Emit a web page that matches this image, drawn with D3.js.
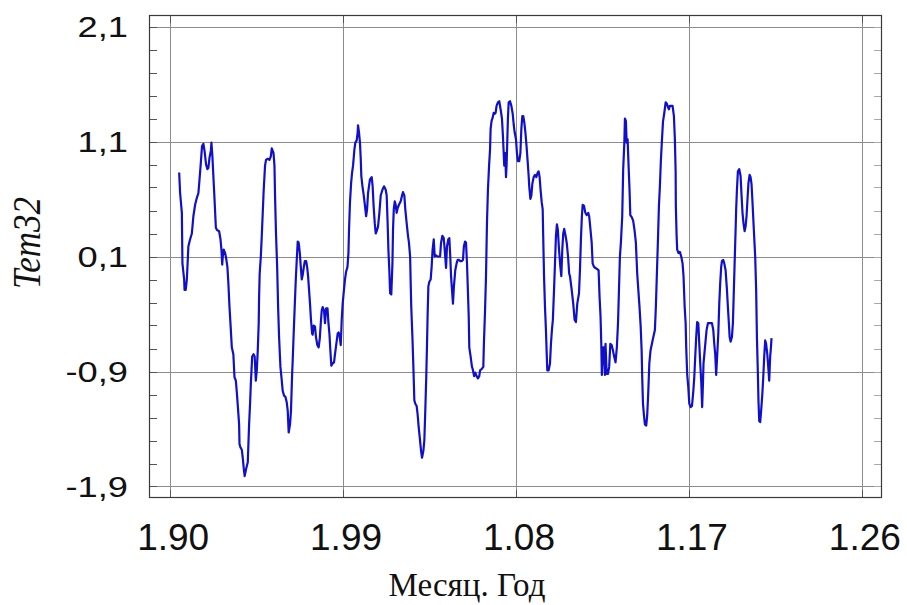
<!DOCTYPE html>
<html>
<head>
<meta charset="utf-8">
<script src="https://cdn.jsdelivr.net/npm/d3@7/dist/d3.min.js"></script>
<style>
  body { margin: 0; background: #fff; }
</style>
</head>
<body>
<svg id="chart" width="907" height="605"></svg>
<script>
// Tem32 monthly series (decimal year, value)
const years = [
  1990.47, 1990.52, 1990.61, 1990.64, 1990.73, 1990.75, 1990.81, 1990.87, 1990.95, 1991.04,
  1991.13, 1991.21, 1991.30, 1991.39, 1991.47, 1991.53, 1991.60, 1991.66, 1991.73, 1991.79,
  1991.87, 1991.94, 1991.99, 1992.05, 1992.12, 1992.15, 1992.20, 1992.25, 1992.31, 1992.38,
  1992.44, 1992.55, 1992.62, 1992.67, 1992.71, 1992.74, 1992.79, 1992.86, 1992.91, 1992.98,
  1993.03, 1993.09, 1993.16, 1993.21, 1993.29, 1993.35, 1993.42, 1993.47, 1993.54, 1993.59,
  1993.61, 1993.66, 1993.73, 1993.78, 1993.83, 1993.88, 1993.95, 1994.04, 1994.11, 1994.16,
  1994.20, 1994.27, 1994.34, 1994.40, 1994.46, 1994.51, 1994.56, 1994.61, 1994.63, 1994.66,
  1994.72, 1994.77, 1994.82, 1994.87, 1994.94, 1994.99, 1995.08, 1995.17, 1995.24, 1995.29,
  1995.38, 1995.43, 1995.46, 1995.51, 1995.57, 1995.62, 1995.67, 1995.74, 1995.81, 1995.86,
  1995.93, 1996.00, 1996.07, 1996.12, 1996.17, 1996.24, 1996.29, 1996.35, 1996.38, 1996.43,
  1996.49, 1996.54, 1996.59, 1996.64, 1996.69, 1996.75, 1996.80, 1996.85, 1996.90, 1996.95,
  1997.01, 1997.08, 1997.13, 1997.18, 1997.23, 1997.28, 1997.33, 1997.39, 1997.42, 1997.47,
  1997.54, 1997.59, 1997.66, 1997.73, 1997.79, 1997.84, 1997.89, 1997.94, 1998.01, 1998.06,
  1998.12, 1998.19, 1998.24, 1998.29, 1998.34, 1998.39, 1998.46, 1998.53, 1998.58, 1998.65,
  1998.72, 1998.77, 1998.83, 1998.88, 1998.93, 1998.98, 1999.03, 1999.10, 1999.16, 1999.23,
  1999.28, 1999.31, 1999.36, 1999.42, 1999.47, 1999.52, 1999.59, 1999.64, 1999.71, 1999.76,
  1999.78, 1999.83, 1999.88, 1999.92, 1999.95, 2000.01, 2000.07, 2000.14, 2000.20, 2000.25,
  2000.30, 2000.40, 2000.49, 2000.54, 2000.59, 2000.65, 2000.70, 2000.75, 2000.82, 2000.89,
  2000.96, 2001.05, 2001.13, 2001.22, 2001.27, 2001.32, 2001.36, 2001.41, 2001.45, 2001.51,
  2001.57, 2001.60, 2001.64, 2001.69, 2001.74, 2001.79, 2001.84, 2001.91, 2002.00, 2002.07,
  2002.12, 2002.19, 2002.24, 2002.31, 2002.38, 2002.43, 2002.49, 2002.52, 2002.55, 2002.61,
  2002.66, 2002.71, 2002.76, 2002.83, 2002.88, 2002.94, 2002.99, 2003.06, 2003.11, 2003.18,
  2003.23, 2003.28, 2003.33, 2003.37, 2003.40, 2003.44, 2003.49, 2003.56, 2003.61, 2003.66,
  2003.72, 2003.77, 2003.84, 2003.91, 2003.98, 2004.05, 2004.10, 2004.17, 2004.24, 2004.29,
  2004.36, 2004.41, 2004.48, 2004.53, 2004.58, 2004.62, 2004.67, 2004.72, 2004.77, 2004.84,
  2004.91, 2004.96, 2005.03, 2005.10, 2005.17, 2005.24, 2005.29, 2005.35, 2005.40, 2005.45,
  2005.49, 2005.54, 2005.57, 2005.64, 2005.71, 2005.75, 2005.82, 2005.88, 2005.95, 2006.02,
  2006.09, 2006.13, 2006.21, 2006.30, 2006.33, 2006.39, 2006.44, 2006.49, 2006.54, 2006.60,
  2006.65, 2006.68, 2006.73, 2006.79, 2006.84, 2006.89, 2006.94, 2006.99, 2007.06, 2007.13,
  2007.20, 2007.27, 2007.32, 2007.36, 2007.39, 2007.44, 2007.48, 2007.51, 2007.55, 2007.58,
  2007.62, 2007.69, 2007.76, 2007.83, 2007.88, 2007.93, 2008.00, 2008.05, 2008.10, 2008.17,
  2008.23, 2008.28, 2008.33, 2008.38, 2008.43, 2008.49, 2008.55, 2008.61, 2008.66, 2008.69,
  2008.75, 2008.80, 2008.85, 2008.92, 2008.99, 2009.06, 2009.13, 2009.18, 2009.23, 2009.28,
  2009.34, 2009.39, 2009.42, 2009.46, 2009.51, 2009.56, 2009.60, 2009.63, 2009.70, 2009.77,
  2009.82, 2009.87, 2009.92, 2009.98, 2010.03, 2010.08, 2010.13, 2010.18, 2010.24, 2010.31,
  2010.36, 2010.41, 2010.46, 2010.51, 2010.58, 2010.64, 2010.71, 2010.77, 2010.81, 2010.90,
  2010.98, 2011.05, 2011.12, 2011.19, 2011.28, 2011.33, 2011.38, 2011.43, 2011.47, 2011.54,
  2011.61, 2011.68, 2011.76, 2011.81, 2011.88, 2011.94, 2011.99, 2012.06, 2012.14, 2012.23,
  2012.30, 2012.35, 2012.40, 2012.44, 2012.47, 2012.53, 2012.58, 2012.63, 2012.66, 2012.72,
  2012.79, 2012.85, 2012.91, 2012.98, 2013.05, 2013.11, 2013.18, 2013.25, 2013.31, 2013.36,
  2013.41, 2013.46, 2013.53, 2013.58, 2013.64, 2013.67, 2013.72, 2013.76, 2013.81, 2013.86,
  2013.91, 2013.95, 2014.03, 2014.10, 2014.17, 2014.24, 2014.31, 2014.38, 2014.43, 2014.49,
  2014.54, 2014.57, 2014.61, 2014.66, 2014.71, 2014.78, 2014.83, 2014.88, 2014.94, 2015.00,
  2015.11, 2015.23, 2015.28, 2015.33, 2015.39, 2015.44, 2015.49, 2015.54, 2015.59, 2015.65,
  2015.72, 2015.79, 2015.85, 2015.91, 2015.96, 2016.01, 2016.08, 2016.15, 2016.22, 2016.27,
  2016.31, 2016.32, 2016.36, 2016.39, 2016.46, 2016.53, 2016.60, 2016.67, 2016.72, 2016.78,
  2016.83, 2016.86, 2016.91, 2016.97, 2017.02, 2017.09, 2017.16, 2017.23, 2017.28, 2017.33,
  2017.38, 2017.43, 2017.49, 2017.54, 2017.59, 2017.64, 2017.69, 2017.73, 2017.76, 2017.82,
  2017.87, 2017.92, 2017.99, 2018.06, 2018.13, 2018.20, 2018.27, 2018.32, 2018.37, 2018.42,
  2018.46, 2018.53, 2018.58, 2018.63, 2018.68, 2018.72, 2018.79, 2018.84, 2018.91, 2018.98,
  2019.03, 2019.08, 2019.12, 2019.17, 2019.24, 2019.29, 2019.34, 2019.39, 2019.43, 2019.46,
  2019.50, 2019.55, 2019.62, 2019.69, 2019.74, 2019.79, 2019.84, 2019.90, 2019.95, 2020.00,
  2020.05, 2020.10, 2020.16, 2020.21, 2020.26, 2020.31, 2020.38, 2020.45, 2020.50, 2020.54,
  2020.59, 2020.62, 2020.66, 2020.71, 2020.76, 2020.82, 2020.87, 2020.92, 2020.97, 2021.02,
  2021.08, 2021.13, 2021.18, 2021.23, 2021.27, 2021.30
];
const values = [
  0.83, 0.65, 0.48, 0.04, -0.10, -0.19, -0.19, -0.10, 0.19, 0.25,
  0.30, 0.45, 0.55, 0.61, 0.65, 0.77, 0.92, 1.06, 1.08, 1.02,
  0.90, 0.86, 0.87, 0.96, 1.02, 1.09, 0.97, 0.80, 0.60, 0.35,
  0.33, 0.32, 0.25, 0.16, 0.03, 0.10, 0.16, 0.13, 0.09, 0.01,
  -0.13, -0.34, -0.54, -0.69, -0.75, -0.95, -0.98, -1.08, -1.24, -1.36,
  -1.53, -1.56, -1.58, -1.65, -1.74, -1.81, -1.75, -1.69, -1.36, -1.18,
  -1.01, -0.77, -0.75, -0.77, -0.98, -0.89, -0.72, -0.48, -0.25, -0.05,
  0.10, 0.28, 0.48, 0.68, 0.89, 0.94, 0.95, 0.94, 0.97, 1.04,
  1.00, 0.89, 0.63, 0.30, 0.01, -0.34, -0.60, -0.86, -0.98, -1.07,
  -1.11, -1.12, -1.17, -1.24, -1.43, -1.36, -1.24, -0.92, -0.80, -0.57,
  -0.31, -0.10, 0.07, 0.23, 0.22, 0.13, 0.01, -0.10, -0.06, 0.00,
  0.06, 0.06, 0.01, -0.07, -0.19, -0.31, -0.45, -0.57, -0.58, -0.50,
  -0.51, -0.60, -0.67, -0.69, -0.61, -0.48, -0.37, -0.34, -0.37, -0.48,
  -0.35, -0.35, -0.48, -0.57, -0.72, -0.85, -0.83, -0.82, -0.75, -0.66,
  -0.57, -0.56, -0.60, -0.67, -0.45, -0.31, -0.22, -0.10, -0.03, 0.01,
  0.13, 0.33, 0.57, 0.74, 0.83, 0.89, 1.03, 1.09, 1.11, 1.18,
  1.24, 1.18, 1.09, 0.95, 0.80, 0.71, 0.64, 0.54, 0.45, 0.51,
  0.65, 0.77, 0.79, 0.71, 0.54, 0.39, 0.30, 0.32, 0.36, 0.48,
  0.63, 0.68, 0.71, 0.68, 0.63, 0.39, 0.16, -0.03, -0.22, -0.23,
  0.04, 0.33, 0.51, 0.58, 0.55, 0.48, 0.52, 0.55, 0.58, 0.63,
  0.66, 0.63, 0.51, 0.39, 0.28, 0.22, 0.10, -0.13, -0.34, -0.60,
  -0.86, -1.15, -1.18, -1.20, -1.27, -1.39, -1.47, -1.59, -1.65, -1.59,
  -1.50, -1.24, -0.95, -0.66, -0.42, -0.16, -0.12, -0.10, 0.01, 0.16,
  0.25, 0.10, 0.11, 0.10, 0.10, 0.10, 0.22, 0.28, 0.26, 0.16,
  0.00, 0.19, 0.25, 0.26, 0.10, -0.07, -0.19, -0.31, -0.16, -0.02,
  0.04, 0.07, 0.07, 0.06, 0.06, 0.07, 0.19, 0.23, 0.22, 0.04,
  -0.16, -0.42, -0.69, -0.77, -0.86, -0.88, -0.94, -0.91, -0.94, -0.96,
  -0.94, -0.89, -0.88, -0.86, -0.66, -0.37, -0.07, 0.39, 0.68, 0.89,
  1.03, 1.21, 1.28, 1.31, 1.35, 1.34, 1.35, 1.41, 1.44, 1.45,
  1.38, 1.30, 1.15, 1.00, 0.89, 1.00, 0.79, 0.89, 1.12, 1.30,
  1.44, 1.45, 1.41, 1.34, 1.25, 1.18, 1.12, 1.00, 0.93, 0.93,
  1.00, 1.21, 1.32, 1.32, 1.27, 1.18, 1.06, 0.92, 0.80, 0.71,
  0.60, 0.63, 0.73, 0.79, 0.81, 0.79, 0.83, 0.84, 0.79, 0.68,
  0.57, 0.51, 0.25, -0.07, -0.34, -0.54, -0.75, -0.89, -0.89, -0.83,
  -0.66, -0.54, -0.45, -0.19, 0.04, 0.28, 0.38, 0.33, 0.16, 0.01,
  -0.07, 0.16, 0.30, 0.34, 0.28, 0.22, 0.10, -0.05, -0.07, -0.19,
  -0.31, -0.45, -0.47, -0.31, -0.22, -0.02, 0.25, 0.45, 0.55, 0.54,
  0.48, 0.46, 0.48, 0.45, 0.33, 0.22, 0.04, 0.01, 0.00, -0.01,
  -0.02, -0.25, -0.42, -0.66, -0.93, -0.69, -0.69, -0.93, -0.66, -0.92,
  -0.92, -0.86, -0.66, -0.67, -0.72, -0.77, -0.82, -0.69, -0.48, -0.19,
  0.10, 0.22, 0.45, 0.86, 1.09, 1.30, 1.28, 1.09, 1.12, 0.89,
  0.68, 0.46, 0.44, 0.41, 0.33, 0.22, -0.05, -0.22, -0.34, -0.51,
  -0.72, -0.95, -1.18, -1.28, -1.36, -1.37, -1.28, -1.10, -0.83, -0.72,
  -0.63, -0.54, -0.34, -0.07, 0.25, 0.54, 0.71, 0.93, 1.09, 1.27,
  1.35, 1.44, 1.43, 1.40, 1.38, 1.41, 1.41, 1.41, 1.32, 1.12,
  0.83, 0.54, 0.28, 0.16, 0.13, 0.14, 0.10, 0.04, -0.07, -0.34,
  -0.48, -0.69, -0.92, -1.04, -1.18, -1.21, -1.20, -1.07, -0.95, -0.77,
  -0.60, -0.47, -0.48, -0.66, -0.83, -0.98, -1.21, -1.01, -0.83, -0.72,
  -0.63, -0.54, -0.48, -0.48, -0.48, -0.48, -0.54, -0.66, -0.75, -0.93,
  -0.80, -0.57, -0.31, -0.13, 0.01, 0.06, 0.07, 0.04, -0.02, -0.19,
  -0.34, -0.48, -0.60, -0.64, -0.60, -0.48, -0.19, 0.10, 0.33, 0.51,
  0.68, 0.84, 0.86, 0.80, 0.63, 0.48, 0.39, 0.32, 0.36, 0.45,
  0.60, 0.74, 0.81, 0.79, 0.73, 0.57, 0.33, 0.10, -0.19, -0.60,
  -0.92, -1.15, -1.33, -1.34, -1.24, -1.10, -0.95, -0.77, -0.63, -0.66,
  -0.75, -0.86, -0.98, -0.77, -0.69, -0.61
];

// axis ticks
const xTicks = [1990, 1999, 2008, 2017, 2026];
const xTickLabels = ['1.90', '1.99', '1.08', '1.17', '1.26'];
const yTicks = [2.1, 1.1, 0.1, -0.9, -1.9];
const yTickLabels = ['2,1', '1,1', '0,1', '-0,9', '-1,9'];
const yMinorTicks = [-1.7, -1.5, -1.3, -1.1, -0.7, -0.5, -0.3, -0.1, 0.3, 0.5, 0.7, 0.9, 1.3, 1.5, 1.7, 1.9];

const svg = d3.select('#chart');
const plotLeft = 149, plotRight = 882, plotTop = 15, plotBottom = 498;

const x = d3.scaleLinear().domain([1988.9, 2027.05]).range([plotLeft, plotRight]);
const y = d3.scaleLinear().domain([-2.0, 2.2]).range([plotBottom, plotTop]);
const px = v => Math.round(v) + 0.5;

// Grid
const grid = svg.append('g').attr('stroke', '#8c8c8c').attr('stroke-width', 1);
grid.selectAll('line.gx')
  .data(xTicks)
  .join('line')
  .attr('class', 'gx')
  .attr('x1', d => px(x(d)))
  .attr('x2', d => px(x(d)))
  .attr('y1', plotTop)
  .attr('y2', plotBottom);
grid.selectAll('line.gy')
  .data(yTicks)
  .join('line')
  .attr('class', 'gy')
  .attr('x1', plotLeft)
  .attr('x2', plotRight)
  .attr('y1', d => px(y(d)))
  .attr('y2', d => px(y(d)));

// Ticks (inward, on all four sides)
const tickG = svg.append('g').attr('stroke', '#555').attr('stroke-width', 1);
const allY = yTicks.concat(yMinorTicks);
tickG.selectAll('line.tl')
  .data(allY)
  .join('line')
  .attr('class', 'tl')
  .attr('x1', plotLeft).attr('x2', plotLeft + 8)
  .attr('y1', d => px(y(d)))
  .attr('y2', d => px(y(d)));
tickG.selectAll('line.tr')
  .data(allY)
  .join('line')
  .attr('class', 'tr')
  .attr('x1', plotRight - 8).attr('x2', plotRight)
  .attr('y1', d => px(y(d)))
  .attr('y2', d => px(y(d)))
  .attr('stroke', '#aaa');
tickG.selectAll('line.tb')
  .data(xTicks)
  .join('line')
  .attr('class', 'tb')
  .attr('x1', d => px(x(d)))
  .attr('x2', d => px(x(d)))
  .attr('y1', plotBottom).attr('y2', plotBottom - 8);
tickG.selectAll('line.tt')
  .data(xTicks)
  .join('line')
  .attr('class', 'tt')
  .attr('x1', d => px(x(d)))
  .attr('x2', d => px(x(d)))
  .attr('y1', plotTop).attr('y2', plotTop + 8);

// Series line
const line = d3.line()
  .x((d, i) => x(years[i]))
  .y(d => y(d));

svg.append('path')
  .datum(values)
  .attr('fill', 'none')
  .attr('stroke', '#1010cc')
  .attr('stroke-width', 2.2)
  .attr('stroke-linejoin', 'round')
  .attr('d', line);

// Frame
svg.append('rect')
  .attr('x', plotLeft + 0.5)
  .attr('y', plotTop + 0.5)
  .attr('width', plotRight - plotLeft - 1)
  .attr('height', plotBottom - plotTop - 1)
  .attr('fill', 'none')
  .attr('stroke', '#3a3a3a')
  .attr('stroke-width', 1.2);

// Tick labels
const labelFont = "'Liberation Sans', Arial, sans-serif";
svg.append('g')
  .selectAll('text')
  .data(yTicks)
  .join('text')
  .attr('transform', d => `translate(128,${y(d)}) scale(1.25,1)`)
  .attr('dy', '0.36em')
  .attr('text-anchor', 'end')
  .attr('font-family', labelFont)
  .attr('font-size', 29)
  .attr('fill', '#111')
  .text((d, i) => yTickLabels[i]);

svg.append('g')
  .selectAll('text')
  .data(xTicks)
  .join('text')
  .attr('x', d => x(d) + 3)
  .attr('y', 550)
  .attr('text-anchor', 'middle')
  .attr('font-family', labelFont)
  .attr('font-size', 37)
  .attr('fill', '#111')
  .text((d, i) => xTickLabels[i]);

// Axis titles
const titleFont = "'Liberation Serif', 'Times New Roman', serif";
svg.append('text')
  .attr('transform', 'translate(467,596)')
  .attr('text-anchor', 'middle')
  .attr('font-family', titleFont)
  .attr('font-size', 33)
  .attr('fill', '#111')
  .text('Месяц. Год');

svg.append('text')
  .attr('transform', 'translate(40,243) scale(1.15,1) rotate(-90)')
  .attr('text-anchor', 'middle')
  .attr('font-family', titleFont)
  .attr('font-style', 'italic')
  .attr('font-size', 35)
  .attr('fill', '#111')
  .text('Tem32');
</script>
</body>
</html>
